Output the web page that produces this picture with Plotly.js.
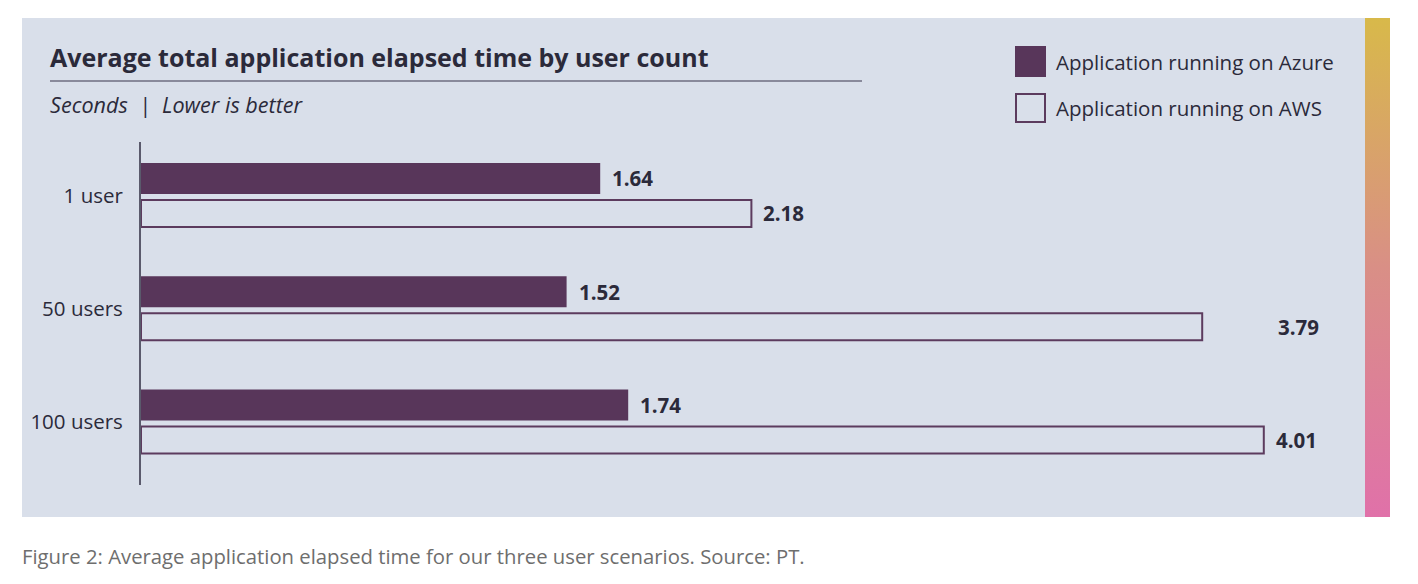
<!DOCTYPE html>
<html>
<head>
<meta charset="utf-8">
<script src="https://cdn.plot.ly/plotly-3.0.1.min.js"></script>
<style>html,body{margin:0;padding:0;background:#fff;}#chart{width:1418px;height:584px;}</style>
</head>
<body>
<div id="chart"></div>
<script>
const categories = ['1 user', '50 users', '100 users'];
const azureValues = [1.64, 1.52, 1.74];
const awsValues = [2.18, 3.79, 4.01];
const seriesNames = ['Application running on Azure', 'Application running on AWS'];
const titleText = 'Average total application elapsed time by user count';
const subtitleText = 'Seconds&nbsp;&nbsp;|&nbsp;&nbsp;Lower is better';
const captionText = 'Figure 2: Average application elapsed time for our three user scenarios. Source: PT.';

const W = 1418, H = 584;
const px = v => v / W;
const py = v => 1 - v / H;
const FONT = '"Open Sans", Lato, sans-serif';
const DARK = '#2b2a3a';
const PLUM = '#58365a';
const PANEL = '#d9dfea';

const traces = [
  {type: 'bar', orientation: 'h', name: seriesNames[0], y: categories, x: azureValues,
   width: 0.274, offset: -0.287, marker: {color: PLUM, line: {width: 0}}, hoverinfo: 'skip',
   xaxis: 'x', yaxis: 'y'},
  {type: 'bar', orientation: 'h', name: seriesNames[1], y: categories, x: awsValues,
   width: 0.238, offset: 0.040, marker: {color: 'rgba(0,0,0,0)', line: {color: '#5c3b5e', width: 2}},
   hoverinfo: 'skip', xaxis: 'x', yaxis: 'y'},
  {type: 'scatter', mode: 'none', x: [0, 1, 1, 0, 0], y: [0, 0, 1, 1, 0], fill: 'toself',
   fillgradient: {type: 'vertical', start: 0, stop: 1, colorscale: [[0, '#e071a9'], [0.5, '#d98f86'], [1, '#d8b94a']]},
   hoverinfo: 'skip', xaxis: 'x2', yaxis: 'y2', showlegend: false}
];

const labelShift = {'1': 74};
const annotations = [];
categories.forEach((c, i) => {
  annotations.push({xref: 'x', yref: 'y', x: azureValues[i], y: c, xanchor: 'left', yanchor: 'middle',
    xshift: 10, yshift: 17, showarrow: false, text: '<b>' + azureValues[i].toFixed(2) + '</b>',
    font: {family: FONT, size: 20.5, color: DARK}});
  annotations.push({xref: 'x', yref: 'y', x: awsValues[i], y: c, xanchor: 'left', yanchor: 'middle',
    xshift: labelShift[i] !== undefined ? labelShift[i] : 10, yshift: -18, showarrow: false,
    text: '<b>' + awsValues[i].toFixed(2) + '</b>', font: {family: FONT, size: 20.5, color: DARK}});
});
annotations.push({xref: 'paper', yref: 'paper', x: px(48), y: py(57), xanchor: 'left', yanchor: 'middle',
  showarrow: false, text: '<b>' + titleText + '</b>', font: {family: FONT, size: 25, color: DARK}});
annotations.push({xref: 'paper', yref: 'paper', x: px(48), y: py(104), xanchor: 'left', yanchor: 'middle',
  showarrow: false, text: '<i>' + subtitleText + '</i>', font: {family: FONT, size: 21.6, color: DARK}});
annotations.push({xref: 'paper', yref: 'paper', x: px(20), y: py(556), xanchor: 'left', yanchor: 'middle',
  showarrow: false, text: captionText, font: {family: FONT, size: 20.3, color: '#6e6e6e'}});
annotations.push({xref: 'paper', yref: 'paper', x: px(1054), y: py(62), xanchor: 'left', yanchor: 'middle',
  showarrow: false, text: seriesNames[0], font: {family: FONT, size: 20.5, color: DARK}});
annotations.push({xref: 'paper', yref: 'paper', x: px(1054), y: py(108), xanchor: 'left', yanchor: 'middle',
  showarrow: false, text: seriesNames[1], font: {family: FONT, size: 20.5, color: DARK}});

const shapes = [
  {type: 'rect', xref: 'paper', yref: 'paper', x0: px(22), x1: px(1365), y0: py(517), y1: py(18),
   fillcolor: PANEL, line: {width: 0}, layer: 'below'},
  {type: 'line', xref: 'paper', yref: 'paper', x0: px(50), x1: px(862), y0: py(81), y1: py(81),
   line: {color: '#6e6e80', width: 1.3}},
  {type: 'rect', xref: 'paper', yref: 'paper', x0: px(1015), x1: px(1046), y0: py(77), y1: py(46),
   fillcolor: PLUM, line: {width: 0}},
  {type: 'rect', xref: 'paper', yref: 'paper', x0: px(1016), x1: px(1045), y0: py(122), y1: py(94),
   fillcolor: 'rgba(0,0,0,0)', line: {color: '#5c3b5e', width: 2}}
];

const layout = {
  width: W, height: H,
  margin: {l: 0, r: 0, t: 0, b: 0},
  paper_bgcolor: '#ffffff', plot_bgcolor: 'rgba(0,0,0,0)',
  showlegend: false, barmode: 'overlay',
  xaxis: {domain: [px(141), px(1340)], range: [0, 1199 / 280], visible: false, fixedrange: true},
  yaxis: {domain: [1 - 485 / H, 1 - 142 / H], type: 'category', categoryarray: categories,
    range: [2.556, -0.472], showline: true, linecolor: '#5a5a6c', linewidth: 2, showgrid: false,
    zeroline: false, ticks: '', ticklabelstandoff: 12, tickfont: {family: FONT, size: 20.5, color: DARK},
    fixedrange: true},
  xaxis2: {domain: [px(1365), px(1390)], range: [0, 1], visible: false, fixedrange: true, anchor: 'y2'},
  yaxis2: {domain: [1 - 517 / H, 1 - 18 / H], range: [0, 1], visible: false, fixedrange: true, anchor: 'x2'},
  annotations: annotations,
  shapes: shapes
};

Plotly.newPlot('chart', traces, layout, {displayModeBar: false, staticPlot: true});
</script>
</body>
</html>
